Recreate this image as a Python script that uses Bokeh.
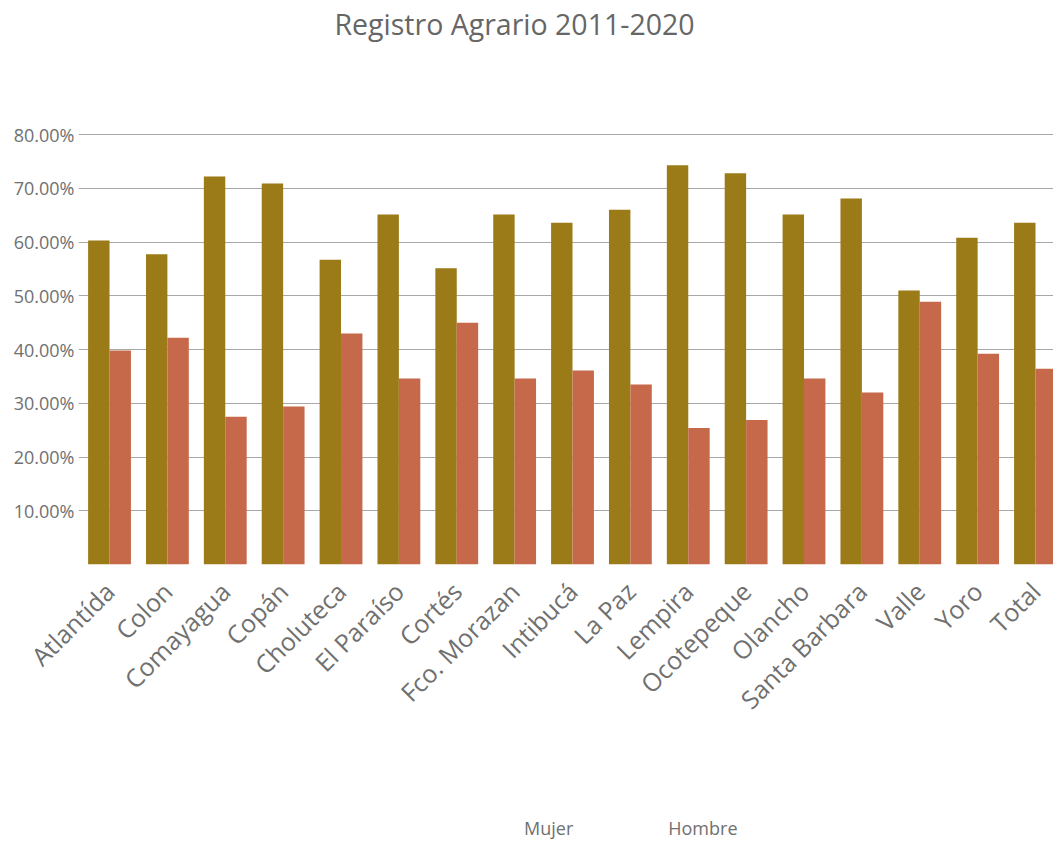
import math
from bokeh.plotting import figure
from bokeh.layouts import column
from bokeh.models import (Range1d, FixedTicker, NumeralTickFormatter, Legend,
                          LegendItem, ColumnDataSource)
from bokeh.transform import dodge
from bokeh.embed import file_html
from bokeh.resources import INLINE

departamentos = ["Atlantída", "Colon", "Comayagua", "Copán", "Choluteca", "El Paraíso",
                 "Cortés", "Fco. Morazan", "Intibucá", "La Paz", "Lempira", "Ocotepeque",
                 "Olancho", "Santa Barbara", "Valle", "Yoro", "Total"]
hombre = [0.603, 0.577, 0.722, 0.709, 0.567, 0.651, 0.551, 0.651, 0.636, 0.660,
          0.743, 0.728, 0.651, 0.681, 0.510, 0.608, 0.636]
mujer = [0.398, 0.422, 0.275, 0.294, 0.430, 0.346, 0.450, 0.346, 0.361, 0.335,
         0.254, 0.269, 0.346, 0.320, 0.489, 0.392, 0.364]
y_ticks = [0.1, 0.2, 0.3, 0.4, 0.5, 0.6, 0.7, 0.8]

HOMBRE_C = "#9b7b17"
MUJER_C = "#c6684a"
TEXT_C = "#707070"
FONT = "Open Sans"

idx = list(range(len(departamentos)))
source = ColumnDataSource(dict(x=idx, hombre=hombre, mujer=mujer))

p = figure(width=1053, height=815, output_backend="svg", toolbar_location=None,
           x_range=Range1d(-0.536, 16.311), y_range=Range1d(0, 0.9656),
           min_border_left=78, min_border_right=0, min_border_top=45,
           min_border_bottom=251, title="Registro Agrario 2011-2020")

r_h = p.vbar(x=dodge("x", -0.185), top="hombre", width=0.37, bottom=0,
             source=source, fill_color=HOMBRE_C, line_color=None)
r_m = p.vbar(x=dodge("x", 0.185), top="mujer", width=0.37, bottom=0,
             source=source, fill_color=MUJER_C, line_color=None)

p.title.text_font = FONT
p.title.text_font_size = "28.5px"
p.title.text_font_style = "normal"
p.title.text_color = "#666666"
p.title.align = "left"
p.title.offset = 256
p.title.standoff = 5

p.outline_line_color = None
p.background_fill_color = "white"
p.border_fill_color = "white"

p.xgrid.grid_line_color = None
p.ygrid.ticker = FixedTicker(ticks=y_ticks)
p.ygrid.grid_line_color = "#a8a8a8"
p.ygrid.grid_line_width = 1

p.yaxis.ticker = FixedTicker(ticks=y_ticks)
p.yaxis.formatter = NumeralTickFormatter(format="0.00%")
p.yaxis.axis_line_color = None
p.yaxis.major_tick_line_color = None
p.yaxis.minor_tick_line_color = None
p.yaxis.major_label_standoff = -2
p.yaxis.major_label_text_font = FONT
p.yaxis.major_label_text_font_size = "18px"
p.yaxis.major_label_text_color = TEXT_C

p.xaxis.ticker = FixedTicker(ticks=idx)
p.xaxis.major_label_overrides = {i: n for i, n in zip(idx, departamentos)}
p.xaxis.major_label_orientation = math.pi / 4
p.xaxis.axis_line_color = None
p.xaxis.major_tick_line_color = None
p.xaxis.minor_tick_line_color = None
p.xaxis.major_label_standoff = 16
p.xaxis.major_label_text_font = FONT
p.xaxis.major_label_text_font_size = "25px"
p.xaxis.major_label_text_color = TEXT_C

# Legend strip below the chart (its own small figure so it is never clipped)
p_leg = figure(width=1053, height=26, output_backend="svg", toolbar_location=None,
               x_range=Range1d(0, 1), y_range=Range1d(0, 1),
               x_axis_location=None, y_axis_location=None, min_border=0)
p_leg.outline_line_color = None
p_leg.grid.grid_line_color = None
empty = ColumnDataSource(dict(x=[], top=[]))
lm = p_leg.vbar(x="x", top="top", width=0.1, source=empty,
                fill_color=MUJER_C, line_color=None)
lh = p_leg.vbar(x="x", top="top", width=0.1, source=empty,
                fill_color=HOMBRE_C, line_color=None)

legend = Legend(items=[LegendItem(label="Mujer", renderers=[lm]),
                       LegendItem(label="Hombre", renderers=[lh])],
                location=(407, 0), orientation="horizontal",
                glyph_width=26, glyph_height=26, label_standoff=13, spacing=56,
                padding=0, margin=0, border_line_color=None,
                background_fill_alpha=0, label_text_font=FONT,
                label_text_font_size="18px", label_text_color=TEXT_C)
p_leg.add_layout(legend)

layout = column(p, p_leg, spacing=0)
open("out.html", "w").write(file_html(layout, INLINE))
